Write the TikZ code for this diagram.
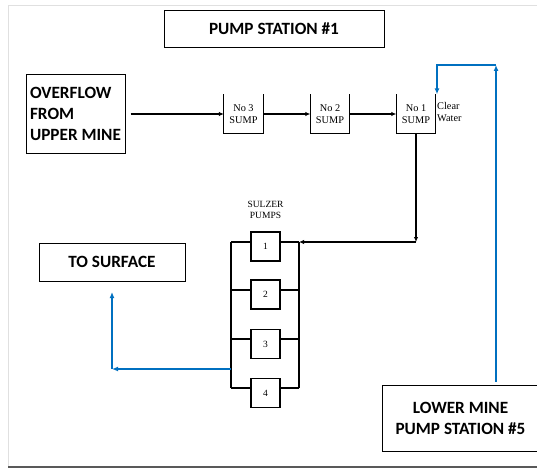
\documentclass[tikz,border=0pt]{standalone}
\usepackage{fontspec}
\setmainfont{Liberation Serif}
\newfontfamily\headfont{Carlito}
\usetikzlibrary{arrows.meta}
\definecolor{flowblue}{RGB}{0,112,192}
\begin{document}
\begin{tikzpicture}[x=1pt,y=-1pt,
  bigbox/.style={draw, line width=1pt, font=\headfont\fontsize{17.2}{21}\selectfont\bfseries, align=left, inner sep=0pt},
  sumpbox/.style={minimum width=39pt, minimum height=39pt, inner sep=0pt, align=center, font=\fontsize{10.3}{11.5}\selectfont},
  pumpbox/.style={draw, line width=1.1pt, minimum width=29pt, minimum height=29pt, inner sep=0pt, font=\fontsize{9.5}{10}\selectfont},
  smalltext/.style={inner sep=0pt, font=\fontsize{9.5}{11.5}\selectfont},
  line/.style={line width=1.1pt},
  arr/.style={line width=1.1pt, -{Latex[length=5pt,width=4.5pt]}},
  barr/.style={line width=1.7pt, flowblue, -{Latex[length=6pt,width=5pt]}}
]
\useasboundingbox (0,0) rectangle (537,468);
% frame
\draw[black!12, line width=0.8pt] (537,5.5) -- (8,5.5) -- (8,466);
\draw[black!65, line width=2pt] (8,466.5) -- (537,466.5);

% boxes
\node[bigbox, minimum width=220pt, minimum height=37pt] (title) at (274,29) {PUMP STATION \#1};
\node[bigbox, minimum width=99pt, minimum height=78pt] (ov) at (75.5,114) {OVERFLOW\\FROM\\UPPER MINE};
\node[bigbox, minimum width=146pt, minimum height=38pt] (surf) at (112,262) {TO SURFACE};
\node[bigbox, minimum width=157pt, minimum height=66pt, align=center] (lower) at (460.5,418) {LOWER MINE\\PUMP STATION \#5};

% sumps
\node[sumpbox] (s3) at (243.5,114) {No 3\\SUMP};
\node[sumpbox] (s2) at (330,114) {No 2\\SUMP};
\node[sumpbox] (s1) at (416,114) {No 1\\SUMP};
\foreach \s in {s3,s2,s1}
  \draw[line] (\s.north west) -- (\s.south west) -- (\s.south east) -- (\s.north east);
\node[smalltext, font=\fontsize{10.3}{11.5}\selectfont, align=left, anchor=west] (cw) at (437,112) {Clear\\Water};

% pumps
\node[smalltext, align=center] (sulzer) at (265.5,210) {SULZER\\PUMPS};
\node[pumpbox] (p1) at (265.5,246.5) {1};
\node[pumpbox] (p2) at (265.5,294.5) {2};
\node[pumpbox] (p3) at (265.5,344) {3};
\node[pumpbox] (p4) at (265.5,393) {4};
\coordinate (L1) at (231,242);
\coordinate (L2) at (231,290);
\coordinate (L3) at (231,339);
\coordinate (L4) at (231,388);
\coordinate (R1) at (299,242);
\coordinate (R2) at (299,290);
\coordinate (R3) at (299,339);
\coordinate (R4) at (299,388);
\draw[line] (L1) -- (L4);
\draw[line] (R1) -- (R4);
\draw[line] (L1) -- (L1 -| p1.west);
\draw[line] (L2) -- (L2 -| p2.west);
\draw[line] (L3) -- (L3 -| p3.west);
\draw[line] (L4) -- (L4 -| p4.west);
\draw[line] (R1) -- (R1 -| p1.east);
\draw[line] (R2) -- (R2 -| p2.east);
\draw[line] (R3) -- (R3 -| p3.east);
\draw[line] (R4) -- (R4 -| p4.east);

% black flow
\draw[arr, shorten <=5pt] (ov.east) -- (s3.west);
\draw[arr] (s3.east) -- (s2.west);
\draw[arr] (s2.east) -- (s1.west);
\coordinate (c1) at (416,242);
\draw[arr] (s1.south) -- (c1);
\draw[arr] (c1) -- (R1);

% blue flow from lower mine
\coordinate (bt) at (496,65);
\coordinate (bl) at (437,65);
\draw[barr, shorten <=3pt] (lower.north -| bt) -- (bt);
\draw[barr] (bt) -- (bl) -- (s1.north -| bl);

% blue flow to surface
\coordinate (sL) at (231,369);
\coordinate (sc) at (112,369);
\coordinate (st) at (112,292);
\draw[barr] (sL) -- (sc);
\draw[barr] (sc) -- (st);
\end{tikzpicture}
\end{document}
